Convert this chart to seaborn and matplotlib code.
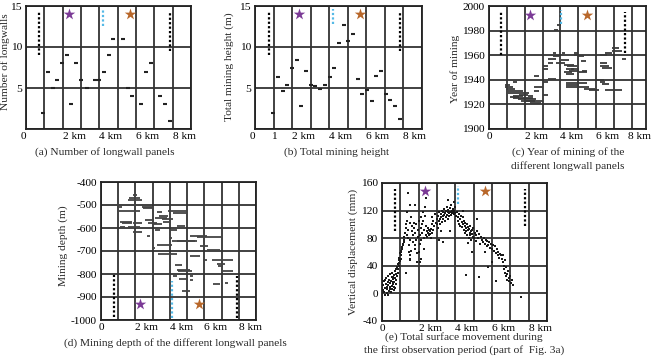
import numpy as np
import matplotlib.pyplot as plt
import matplotlib.transforms as mtransforms
import seaborn as sns

W, H = 653, 357

# ---- (a) number of longwall panels ----
a_km = [0.95, 1.22, 1.46, 1.71, 1.97, 2.22, 2.48, 2.73, 2.98, 3.35, 3.75, 4.0,
        4.26, 4.52, 4.77, 5.28, 5.55, 5.79, 6.3, 6.56, 6.81, 7.32, 7.58, 7.83]
a_n = [2, 7, 5, 6, 8, 9, 3, 8, 6, 5, 6, 6,
       7, 9, 11, 11, 5, 4, 3, 7, 8, 4, 3, 1]

# ---- (b) total mining height ----
b_km = [0.99, 1.26, 1.5, 1.75, 2.0, 2.25, 2.5, 2.76, 3.0, 3.26, 3.51, 3.77, 4.02, 4.27,
        4.52, 4.77, 5.03, 5.28, 5.53, 5.78, 6.04, 6.29, 6.54, 6.79, 7.05, 7.3, 7.55, 7.8]
b_h = [1.95, 6.4, 4.6, 5.4, 7.4, 8.4, 2.75, 7.1, 5.4, 5.2, 4.86, 5.4, 6.3, 7.4,
       10.5, 12.7, 10.7, 11.6, 6.1, 4.26, 4.8, 3.36, 6.5, 7.1, 4.26, 3.57, 2.75, 1.2]

# ---- (c) year of mining (panel extent along profile) ----
c_start = [0.87, 0.93, 1.06, 1.06, 1.33, 2.17, 1.33, 1.61, 1.8, 1.33, 2.54, 2.54, 2.54,
           3.0, 3.0, 3.28, 3.0, 3.0, 3.28, 3.28, 3.56, 3.56, 4.07, 4.02, 3.78, 4.2, 4.39,
           4.3, 4.57, 4.48, 5.22, 4.2, 5.04, 4.3, 4.76, 4.76, 4.98, 5.13, 4.3, 4.3, 4.3,
           4.85, 5.31, 5.59, 6.52, 6.06, 6.24, 6.33, 6.24, 6.24, 6.33, 6.24, 6.52, 6.89,
           6.89, 7.44, 3.83, 3.65, 0.9, 1.2, 2.0, 2.3, 1.7]
c_end = [1.33, 1.48, 1.89, 2.26, 1.89, 2.44, 2.44, 2.63, 3.0, 1.56, 2.81, 3.0, 2.81,
         3.28, 3.33, 3.78, 3.28, 3.28, 3.56, 3.78, 3.93, 3.78, 4.26, 4.48, 4.26, 4.76, 4.94,
         4.76, 5.04, 5.04, 5.5, 4.67, 5.5, 4.76, 5.04, 4.98, 5.31, 5.41, 5.5, 5.04, 4.85,
         5.59, 5.96, 6.15, 7.44, 6.43, 6.52, 6.7, 6.61, 6.7, 6.89, 6.61, 6.89, 7.44,
         7.26, 7.67, 4.02, 3.89, 1.2, 1.7, 2.6, 2.9, 2.2]
c_year = [1934, 1932.4, 1931, 1929, 1927, 1927, 1925, 1924, 1922.5, 1938, 1943, 1934, 1930.5,
          1928, 1938.6, 1940.8, 1951.5, 1949, 1953.5, 1956.8, 1959.5, 1962, 1962, 1956, 1954,
          1952, 1951, 1949, 1949, 1947.5, 1947.5, 1946, 1946, 1944.5, 1960, 1961.6, 1959, 1955,
          1937, 1935.7, 1934, 1934, 1932.7, 1931.4, 1931.4, 1940, 1938, 1936.8, 1953.5, 1951.4,
          1949.5, 1960.3, 1961.6, 1963.8, 1965.7, 1956.8, 1984.6, 1980.5, 1936, 1926, 1923,
          1921.5, 1928]

# ---- (d) mining depth ----
d_start = [1.84, 1.64, 1.59, 0.87, 0.91, 2.36, 2.46, 0.91, 3.23, 3.91, 4.2, 3.38, 3.13, 3.52,
           1.1, 1.2, 1.88, 2.55, 2.75, 3.62, 3.04, 4.39, 1.1, 1.59, 1.88, 3.13, 4.0, 2.65,
           3.97, 4.1, 4.39, 5.16, 5.55, 2.94, 3.23, 5.74, 6.13, 3.33, 4.78, 5.94, 5.16, 6.42,
           6.71, 6.81, 7.0, 4.29, 4.39, 4.49, 4.2, 4.55, 5.16, 5.16, 6.52, 7.2, 4.68]
d_end = [2.11, 2.26, 2.36, 2.46, 1.2, 3.04, 3.04, 2.26, 3.52, 4.97, 4.97, 3.91, 3.81, 4.2,
         1.78, 1.78, 2.36, 3.04, 3.23, 4.0, 3.52, 4.87, 1.39, 2.26, 2.36, 3.42, 4.39, 2.84,
         4.1, 5.45, 5.55, 6.13, 7.0, 3.13, 4.1, 6.23, 6.9, 4.39, 5.74, 6.13, 5.74, 7.68,
         7.2, 7.1, 7.68, 4.68, 5.16, 5.26, 4.39, 4.97, 5.36, 5.36, 6.9, 7.39, 5.16]
d_depth = [-457, -468, -479, -498, -508, -508, -515, -527, -531, -528, -534, -546, -556, -563,
           -573, -580, -578, -566, -578, -573, -582, -592, -596, -595, -617, -607, -610, -633,
           -643, -658, -655, -633, -640, -687, -675, -680, -697, -713, -698, -738, -720, -741,
           -755, -767, -789, -760, -781, -789, -810, -822, -808, -825, -842, -837, -872]

# ---- (e) vertical displacement, first observation period ----
e_km = [0.05, 0.08, 0.1, 0.12, 0.15, 0.18, 0.2, 0.22, 0.25, 0.27, 0.3, 0.32, 0.33, 0.35, 0.38,
        0.4, 0.42, 0.44, 0.45, 0.48, 0.5, 0.52, 0.53, 0.55, 0.57, 0.58, 0.6, 0.62, 0.63, 0.65,
        0.67, 0.68, 0.7, 0.72, 0.74, 0.75, 0.77, 0.78, 0.8, 0.15, 0.28, 0.36, 0.46, 0.6, 0.7,
        0.82, 0.85, 0.87, 0.9, 0.92, 0.95, 0.97, 1.0, 1.02, 1.04, 1.06, 1.08, 1.1, 1.12, 1.15,
        1.18, 1.2, 1.22, 1.25, 0.88, 0.95, 1.05,
        1.3, 1.32, 1.35, 1.38, 1.4, 1.42, 1.45, 1.48, 1.5, 1.52, 1.55, 1.58, 1.6, 1.62, 1.65,
        1.68, 1.7, 1.72, 1.75, 1.78, 1.8, 1.82, 1.85, 1.88, 1.9, 1.92, 1.95, 1.98, 2.0, 1.35,
        1.55, 1.5, 1.4, 1.55, 1.8, 1.3,
        2.02, 2.05, 2.08, 2.1, 2.12, 2.15, 2.18, 2.2, 2.22, 2.25, 2.28, 2.3, 2.32, 2.35, 2.38,
        2.4, 2.42, 2.45, 2.48, 2.5, 2.52, 2.55, 2.58, 2.6, 2.62, 2.65, 2.68, 2.7, 2.72, 2.75,
        2.78, 2.8, 2.85, 2.9, 2.95, 3.0, 2.3, 2.1, 2.05,
        3.02, 3.05, 3.08, 3.1, 3.12, 3.15, 3.18, 3.2, 3.22, 3.25, 3.28, 3.3, 3.32, 3.35, 3.38,
        3.4, 3.42, 3.45, 3.48, 3.5, 3.52, 3.55, 3.58, 3.6, 3.62, 3.65, 3.68, 3.7, 3.72, 3.75,
        3.78, 3.8, 3.82, 3.85, 3.88, 3.9, 3.92, 3.95, 3.98, 4.0, 3.2, 3.6, 3.3, 3.1, 3.7,
        4.05, 4.1, 4.12, 4.15, 4.2, 4.22, 4.25, 4.28, 4.3, 4.35, 4.38, 4.4, 4.42, 4.45, 4.48,
        4.5, 4.52, 4.55, 4.58, 4.6, 4.62, 4.65, 4.68, 4.7, 4.72, 4.75, 4.78, 4.8, 4.82, 4.85,
        4.88, 4.9, 4.92, 4.95, 4.98, 5.0, 5.05, 5.1, 5.15, 5.2, 5.25, 5.3, 5.35, 5.4, 5.45,
        5.5, 4.4, 4.9, 5.2, 4.6, 5.3, 4.7,
        5.55, 5.6, 5.65, 5.7, 5.75, 5.8, 5.85, 5.9, 5.95, 6.0, 6.05, 6.1, 6.15, 6.2, 6.25,
        6.3, 6.35, 6.4, 6.45, 6.5, 5.8, 6.2, 5.6, 6.0,
        6.55, 6.6, 6.62, 6.65, 6.68, 6.7, 6.72, 6.75, 6.78, 6.8, 6.82, 6.85, 6.9, 6.95, 7.0,
        7.05, 7.1, 7.15, 7.6]
e_mm = [5, 12, 2, 18, 8, -2, 14, 22, 6, 10, 16, -3, 25, 12, 4,
        20, 9, 28, 15, 2, 18, 11, 24, 7, 30, 16, 13, 21, 5, 26,
        17, 10, 32, 22, 14, 28, 19, 36, 25, 20, 0, 19, 6, 24, 8,
        38, 42, 35, 48, 44, 52, 47, 58, 55, 62, 60, 67, 65, 72, 70,
        78, 82, 75, 88, 30, 40, 50,
        95, 100, 85, 105, 92, 80, 70, 60, 55, 50, 48, 62, 110, 98, 90,
        75, 85, 102, 95, 70, 88, 65, 78, 100, 45, 58, 82, 92, 105, 118,
        102, 78, 145, 128, 128, 30,
        60, 72, 85, 95, 78, 110, 100, 88, 118, 105, 92, 80, 112, 125, 98,
        138, 85, 90, 82, 95, 88, 92, 84, 90, 86, 94, 80, 88, 100, 110,
        92, 105, 98, 115, 102, 108, 65, 50, 45,
        100, 112, 95, 105, 118, 108, 100, 115, 110, 120, 104, 112, 118, 108, 122,
        113, 105, 116, 120, 110, 125, 114, 118, 108, 121, 116, 112, 124, 118, 114,
        128, 120, 116, 122, 118, 132, 115, 120, 125, 117, 90, 135, 75, 78, 90,
        112, 118, 105, 110, 100, 115, 108, 98, 112, 104, 96, 110, 100, 92, 105,
        98, 88, 102, 95, 90, 100, 85, 96, 92, 80, 94, 88, 98, 84, 90,
        78, 92, 86, 82, 95, 80, 88, 76, 84, 90, 80, 86, 72, 82, 78,
        75, 120, 60, 108, 27, 24, 73,
        80, 72, 78, 68, 76, 70, 74, 66, 72, 64, 70, 62, 68, 58, 64,
        56, 60, 52, 57, 55, 38, 18, 60, 45,
        50, 45, 55, 40, 35, 48, 30, 25, 38, 28, 20, 32, 22, 18, 25,
        15, 20, 12, -5]

# boundary dotted lines and star markers per panel: (km, y0, y1)
black_lines = {'a': [(0.71, 9, 14.3), (7.87, 9.5, 14.2)],
               'b': [(0.76, 9, 14.3), (7.84, 9.5, 14.3)],
               'c': [(0.69, 1960, 1995), (7.63, 1962, 1995)],
               'd': [(0.75, -985, -803), (7.87, -992, -808)],
               'e': [(0.73, 90, 151), (7.78, 97, 151)]}
blue_lines = {'a': (4.19, 12.6, 14.5), 'b': (4.2, 12.8, 14.6), 'c': (4.02, 1985, 1997),
              'd': (4.14, -992, -832), 'e': (4.15, 130, 156)}
stars = {'a': (2.35, 5.68, 14), 'b': (2.38, 5.68, 14), 'c': (2.3, 5.5, 1993),
         'd': (2.26, 5.7, -931), 'e': (2.36, 5.62, 148)}

sns.set_theme(style="white")
plt.rcParams['font.family'] = ['Liberation Serif', 'DejaVu Serif']
FS = 8.2

fig = plt.figure(figsize=(W / 100, H / 100), dpi=100)


def box(l, t, r, b):
    return [l / W, 1 - b / H, (r - l) / W, (b - t) / H]


def ftext(x, y, s, size=FS, **kw):
    fig.text(x / W, 1 - y / H, s, ha='center', va='center', fontsize=size, **kw)


def shift(label, dx_px):
    off = mtransforms.ScaledTranslation(dx_px / 100, 0, fig.dpi_scale_trans)
    label.set_transform(label.get_transform() + off)


def frame(ax, key, xmax, ylim, yticks, ylabels, xlabels, zero_ha='center'):
    ax.set_xlim(0, xmax)
    ax.set_ylim(*ylim)
    ax.set_xticks(range(0, len(xlabels)))
    ax.set_xticklabels(xlabels)
    ax.set_yticks(yticks)
    ax.set_yticklabels(ylabels)
    for t in ax.get_xticklabels():
        t.set_ha('left' if 'km' in t.get_text() else zero_ha if t.get_text() == '0' else 'center')
        if 'km' in t.get_text():
            shift(t, -1)
    ax.tick_params(length=0, labelsize=FS, colors='black')
    ax.tick_params(axis='x', pad=2)
    ax.tick_params(axis='y', pad=3)
    ax.grid(True, color='#333333', lw=1.3)
    ax.set_axisbelow(True)
    for s in ax.spines.values():
        s.set_color('#222222')
        s.set_linewidth(1.3)
    ax.set_xlabel('')
    ax.set_ylabel('')
    for x, y0, y1 in black_lines[key]:
        ax.vlines(x, y0, y1, colors='black', linestyles=(0, (1, 1)), lw=1.6, zorder=4)
    x, y0, y1 = blue_lines[key]
    ax.vlines(x, y0, y1, colors='#55b9e6', linestyles=(0, (1, 1)), lw=1.6, zorder=4)
    sx1, sx2, sy = stars[key]
    ax.scatter([sx1], [sy], marker='*', s=75, color='#7b3a96', zorder=5, lw=0)
    ax.scatter([sx2], [sy], marker='*', s=75, color='#b8672a', zorder=5, lw=0)


km_labels = ['0', '', '2 km', '', '4 km', '', '6 km', '', '8 km', '']

# (a)
ax = fig.add_axes(box(26, 6, 191, 129))
sns.scatterplot(x=a_km, y=a_n, marker='_', s=10, color='#222222', linewidth=1.5, ax=ax, zorder=3)
frame(ax, 'a', 9, (0, 15), [0, 5, 10, 15], ['', '5', '10', '15'], km_labels, zero_ha='right')
ftext(5, 62, 'Number of longwalls', rotation=90)
ftext(105, 152, '(a) Number of longwall panels')

# (b)
ax = fig.add_axes(box(255, 6, 422, 129))
sns.scatterplot(x=b_km, y=b_h, marker='_', s=10, color='#222222', linewidth=1.5, ax=ax, zorder=3)
frame(ax, 'b', 9, (0, 15), [0, 5, 10, 15], ['', '5', '10', '15'],
      ['0', '1', '2 km', '', '4 km', '', '6 km', '', '8 km', ''], zero_ha='right')
ftext(229, 67, 'Total mining height (m)', rotation=90)
ftext(337, 152, '(b) Total mining height')

# (c)
ax = fig.add_axes(box(489, 6, 646, 129))
ax.hlines(c_year, c_start, c_end, colors='#3a3a3a', lw=1.3, zorder=3)
frame(ax, 'c', 8.8, (1900, 2000), [1900, 1920, 1940, 1960, 1980, 2000],
      ['1900', '1920', '1940', '1960', '1980', '2000'], km_labels[:9])
shift(ax.get_xticklabels()[8], -4)
ftext(455, 69, 'Year of mining', rotation=90)
ftext(568, 152, '(c) Year of mining of the')
ftext(568, 166, 'different longwall panels')

# (d)
ax = fig.add_axes(box(101, 182, 256, 320))
ax.hlines(d_depth, d_start, d_end, colors='#444444', lw=1.3, zorder=3)
frame(ax, 'd', 9, (-1000, -400), list(range(-1000, -399, 100)),
      [str(v) for v in range(-1000, -399, 100)], km_labels)
ftext(63, 246, 'Mining depth (m)', rotation=90)
ftext(175, 343, '(d) Mining depth of the different longwall panels')

# (e)
ax = fig.add_axes(box(382, 183, 547, 321))
sns.scatterplot(x=e_km, y=e_mm, marker='s', s=4, color='#1a1a1a', linewidth=0, ax=ax, zorder=3)
frame(ax, 'e', 9, (-40, 160), [-40, 0, 40, 80, 120, 160],
      ['-40', '0', '40', '80', '120', '160'], km_labels)
ftext(353, 252, 'Vertical displacement (mm)', rotation=90)
ftext(464, 337, '(e) Total surface movement during')
ftext(464, 350, 'the first observation period (part of  Fig. 3a)')

fig.savefig('out.png', dpi=100)
